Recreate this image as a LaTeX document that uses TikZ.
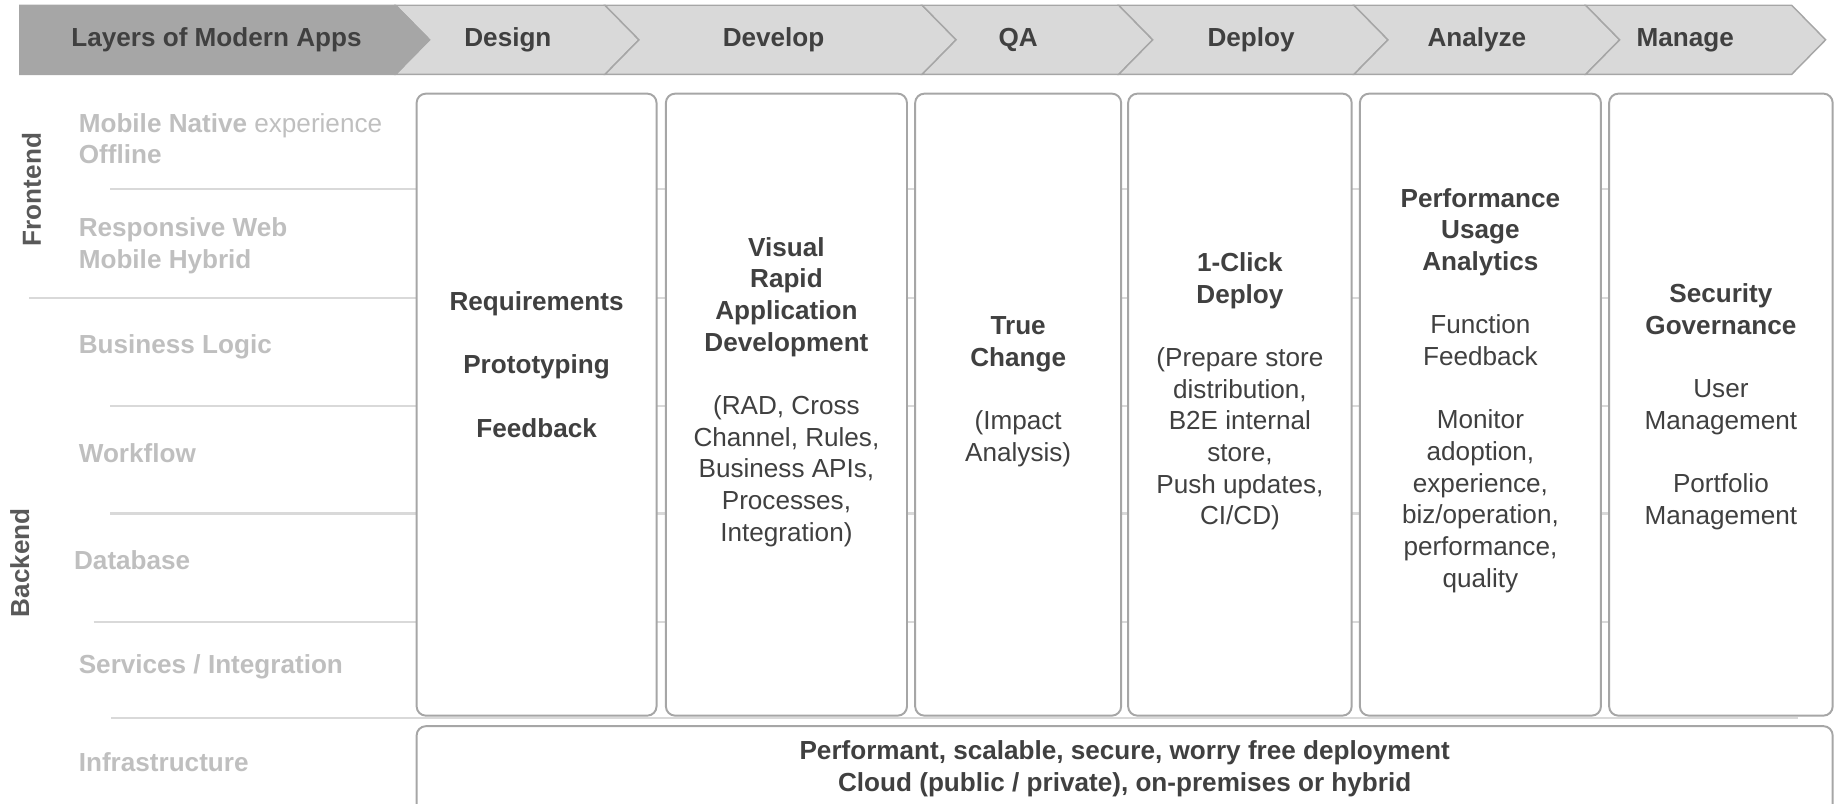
\documentclass[tikz,border=0pt]{standalone}
\usepackage{fontspec}
\setmainfont{Liberation Sans}
\definecolor{hdrdark}{HTML}{A6A6A6}
\definecolor{hdrlight}{HTML}{D9D9D9}
\definecolor{hdrline}{HTML}{A6A6A6}
\definecolor{txtdark}{HTML}{404040}
\definecolor{txtlayer}{HTML}{BFBFBF}
\definecolor{txtside}{HTML}{595959}
\definecolor{rowline}{HTML}{D9D9D9}
\definecolor{boxline}{HTML}{A6A6A6}
\tikzset{
  basefont/.style={font=\fontsize{12.7}{15.4}\selectfont},
  boldfont/.style={font=\fontsize{12.7}{15.4}\selectfont\bfseries},
  hdrtxt/.style={boldfont, text=txtdark},
  layertxt/.style={basefont, text=txtlayer, anchor=west, align=left, inner sep=0pt},
  sidetxt/.style={boldfont, text=txtside, rotate=90},
  phasebox/.style={draw=boxline, fill=white, line width=0.95pt, rounded corners=4.5pt},
  phasetxt/.style={basefont, text=txtdark, align=center},
  rowrule/.style={draw=rowline, line width=1.3pt},
}
\begin{document}
\begin{tikzpicture}[x=0.02cm, y=-0.02cm]
  \useasboundingbox (0,0) rectangle (1568,687);
  % header chevrons
  \foreach \xl/\xr in {338/517, 517/788, 788/956, 956/1157, 1157/1355, 1355/1531} {
    \filldraw[fill=hdrlight, draw=hdrline, line width=0.7pt]
      (\xl,4.5) -- (\xr,4.5) -- (\xr+29,34) -- (\xr,63.5) -- (\xl,63.5) -- (\xl+29,34) -- cycle;
  }
  \filldraw[fill=hdrdark, draw=hdrline, line width=0.7pt]
    (17,4.5) -- (338,4.5) -- (367,34) -- (338,63.5) -- (17,63.5) -- cycle;
  \foreach \name/\x/\txt in {h0/185/Layers of Modern Apps, h1/434/Design, h2/661/Develop,
      h3/870/QA, h4/1069/Deploy, h5/1262/Analyze, h6/1440/Manage} {
    \node[hdrtxt] (\name) at (\x,34) {\txt};
  }
  % layer rules
  \foreach \xs/\y/\xe in {94/161.5/1566, 25/254.5/1566, 94/347/1566, 94/439/1566, 80/531.5/1566, 95/613.5/1536} {
    \draw[rowrule] (\xs,\y) -- (\xe,\y);
  }
  % layers
  \node[layertxt] (native) at (67,118.5) {\textbf{Mobile Native} experience\\\textbf{Offline}};
  \node[layertxt] (web) at (67,210) {\textbf{Responsive Web}\\\textbf{Mobile Hybrid}};
  \foreach \name/\x/\y/\txt in {logic/67/296/{Business Logic}, flow/67/387/{Workflow}, db/63/478.5/{Database},
      svc/67/570/{Services / Integration}, infra/67/651/{Infrastructure}} {
    \node[layertxt, boldfont] (\name) at (\x,\y) {\txt};
  }
  \node[sidetxt] (front) at (27,162) {Frontend};
  \node[sidetxt] (back) at (17,481) {Backend};
  % phase boxes
  \draw[phasebox] (356,80) rectangle (561,611.5);
  \draw[phasebox] (569,80) rectangle (775,611.5);
  \draw[phasebox] (782,80) rectangle (958,611.5);
  \draw[phasebox] (964,80) rectangle (1155,611.5);
  \draw[phasebox] (1162,80) rectangle (1368,611.5);
  \draw[phasebox] (1375,80) rectangle (1566,611.5);
  \draw[phasebox, fill=none] (356,700) -- (356,620.5) -- (1566,620.5) -- (1566,700);
  \node[phasetxt, boldfont] (design) at (458.5,311.5)
    {Requirements\\[15.4pt]Prototyping\\[15.4pt]Feedback};
  \node[phasetxt] (develop) at (672,335)
    {\textbf{Visual}\\\textbf{Rapid}\\\textbf{Application}\\\textbf{Development}\\[15.4pt]%
     (RAD, Cross\\Channel, Rules,\\Business APIs,\\Processes,\\Integration)};
  \node[phasetxt] (qa) at (870,334.5)
    {\textbf{True}\\\textbf{Change}\\[15.4pt](Impact\\Analysis)};
  \node[phasetxt] (deploy) at (1059.5,334.5)
    {\textbf{1-Click}\\\textbf{Deploy}\\[15.4pt](Prepare store\\distribution,\\B2E internal\\store,\\Push updates,\\CI/CD)};
  \node[phasetxt] (analyze) at (1265,333.5)
    {\textbf{Performance}\\\textbf{Usage}\\\textbf{Analytics}\\[15.4pt]Function\\Feedback\\[15.4pt]%
     Monitor\\adoption,\\experience,\\biz/operation,\\performance,\\quality};
  \node[phasetxt] (manage) at (1470.5,347.5)
    {\textbf{Security}\\\textbf{Governance}\\[15.4pt]User\\Management\\[15.4pt]Portfolio\\Management};
  \node[phasetxt, boldfont] (deployment) at (961,657)
    {Performant, scalable, secure, worry free deployment\\Cloud (public / private), on-premises or hybrid};
\end{tikzpicture}
\end{document}
